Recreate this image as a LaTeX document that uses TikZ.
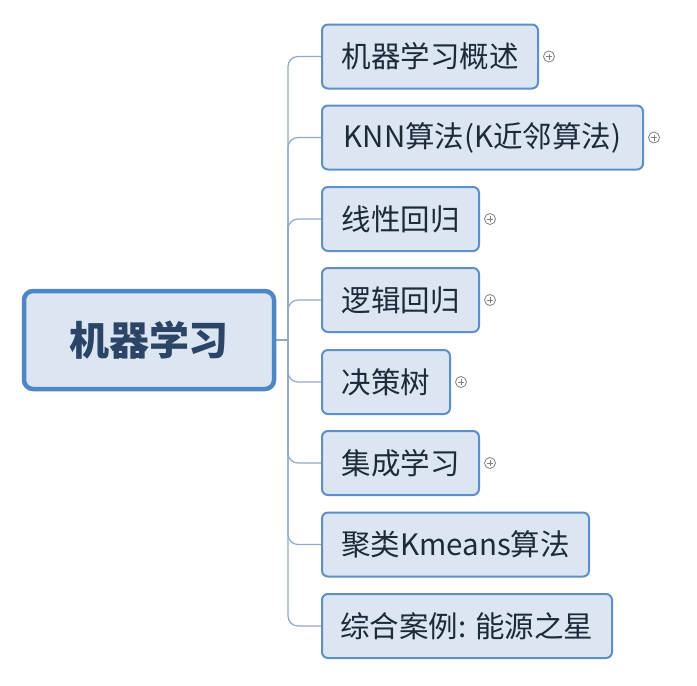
\documentclass[tikz,border=0pt]{standalone}
\usepackage{fontspec}
\setmainfont{Noto Sans CJK SC}
\usetikzlibrary{backgrounds}
\definecolor{boxfill}{HTML}{DCE6F2}
\definecolor{rootborder}{HTML}{4F86C6}
\definecolor{childborder}{HTML}{5E8FC9}
\definecolor{conncol}{HTML}{94AAC2}
\definecolor{roottext}{HTML}{2C4566}
\definecolor{childtext}{HTML}{1E2A3A}
\definecolor{pluscol}{HTML}{808080}
\begin{document}
\begin{tikzpicture}[x=1pt,y=-1pt,
  rootbox/.style={draw=rootborder, line width=4.5pt, fill=boxfill, rounded corners=9pt,
    minimum width=250pt, minimum height=98pt, inner sep=0pt,
    font=\fontsize{40}{42}\selectfont\bfseries, text=roottext},
  childbox/.style={draw=childborder, line width=2pt, fill=boxfill, rounded corners=6pt,
    minimum height=64pt, inner sep=0pt, anchor=west,
    font=\fontsize{29.5}{31}\selectfont, text=childtext},
  conn/.style={draw=conncol, line width=1.2pt, rounded corners=10pt},
  plusmark/.style={draw=pluscol, circle, line width=0.8pt, minimum size=11pt, inner sep=0pt}
]
\useasboundingbox (0,0) rectangle (697,686);

\node[rootbox] (root) at (149,340) {机器学习};
\coordinate (j) at (288,340);

\node[childbox, minimum width=216pt] (c1) at (321,56.5) {机器学习概述};
\node[childbox, minimum width=321pt] (c2) at (321,137.5) {KNN算法(K近邻算法)};
\node[childbox, minimum width=157pt] (c3) at (321,219) {线性回归};
\node[childbox, minimum width=157pt] (c4) at (321,300) {逻辑回归};
\node[childbox, minimum width=128pt] (c5) at (321,382) {决策树};
\node[childbox, minimum width=157pt] (c6) at (321,463) {集成学习};
\node[childbox, minimum width=267pt] (c7) at (321,544.5) {聚类Kmeans算法};
\node[childbox, minimum width=290pt] (c8) at (321,626) {综合案例: 能源之星};

\begin{scope}[on background layer]
\fill[white] (0,0) rectangle (697,686);
\draw[conn] (root.east) -- (j);
\foreach \c in {c1,c2,c3,c4,c5,c6,c7,c8}{
  \draw[conn] (j) |- (\c.west);
}
\end{scope}

\foreach \c in {c1,c2,c3,c4,c5,c6}{
  \node[plusmark] (p\c) at ([xshift=10pt]\c.east) {};
  \draw[pluscol, line width=0.7pt] ([xshift=-3pt]p\c.center) -- ([xshift=3pt]p\c.center);
  \draw[pluscol, line width=0.7pt] ([yshift=-3pt]p\c.center) -- ([yshift=3pt]p\c.center);
}
\end{tikzpicture}
\end{document}
